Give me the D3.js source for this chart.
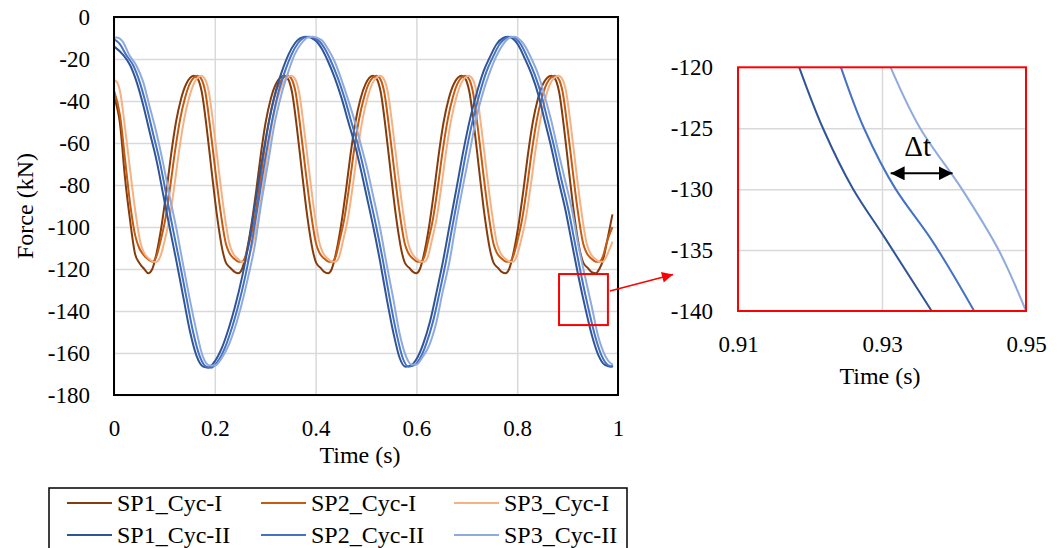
<!DOCTYPE html>
<html>
<head>
<meta charset="utf-8">
<script src="https://cdn.jsdelivr.net/npm/d3@7"></script>
<style>
  body { margin: 0; background: #fff; }
  svg text { font-family: "Liberation Serif", "Times New Roman", serif; fill: #000; }
</style>
</head>
<body>
<svg id="chart" width="1062" height="548"></svg>
<script>
// Force histories, [time (s), force (kN)]
const sp1CycI = [[0,-38],[0.012,-51],[0.022,-77],[0.032,-97],[0.042,-113],[0.05,-117],[0.06,-120],[0.068,-122],[0.076,-120],[0.084,-113],[0.094,-100],[0.104,-83],[0.113,-66],[0.123,-50],[0.133,-39],[0.143,-32],[0.159,-28],
  [0.165,-29],[0.174,-35.5],[0.184,-53],[0.194,-74],[0.204,-94],[0.217,-113],[0.222,-117],[0.231,-119.5],[0.24,-121.5],[0.247,-122],[0.254,-120],[0.262,-113],[0.272,-100],[0.282,-83],[0.291,-66],[0.301,-50],[0.311,-39],[0.321,-32],[0.338,-28],
  [0.344,-29],[0.353,-35.5],[0.363,-53],[0.373,-74],[0.383,-94],[0.396,-113],[0.401,-117],[0.41,-119.5],[0.418,-121.5],[0.425,-122],[0.432,-120],[0.44,-113],[0.45,-100],[0.46,-83],[0.469,-66],[0.479,-50],[0.489,-39],[0.499,-32],[0.514,-28],
  [0.52,-29],[0.529,-35.5],[0.539,-53],[0.549,-74],[0.559,-94],[0.572,-113],[0.577,-117],[0.586,-119.5],[0.594,-121.5],[0.6,-122],[0.607,-120],[0.615,-113],[0.625,-100],[0.635,-83],[0.644,-66],[0.654,-50],[0.664,-39],[0.674,-32],[0.69,-28],
  [0.696,-29],[0.705,-35.5],[0.715,-53],[0.725,-74],[0.735,-94],[0.748,-113],[0.753,-117],[0.762,-119.5],[0.77,-121.5],[0.777,-122],[0.784,-120],[0.792,-113],[0.802,-100],[0.812,-83],[0.821,-66],[0.831,-50],[0.841,-39],[0.851,-32],[0.868,-28],
  [0.874,-29],[0.883,-35.5],[0.893,-53],[0.903,-74],[0.913,-94],[0.926,-113],[0.931,-117],[0.94,-119.5],[0.948,-121.5],[0.956,-122],[0.963,-120],[0.97,-116],[0.979,-106],[0.989,-94]];

const sp2CycI = [[0,-35],[0.012,-47],[0.022,-68],[0.032,-89],[0.042,-104],[0.05,-110],[0.058,-113],[0.068,-115.5],[0.076,-116.5],[0.084,-114],[0.092,-107],[0.102,-96],[0.112,-80],[0.121,-64],[0.131,-49],[0.141,-38.5],[0.151,-31.5],[0.166,-28],
  [0.172,-29],[0.181,-35.5],[0.191,-53],[0.201,-73],[0.211,-92],[0.222,-108],[0.228,-112],[0.238,-115],[0.247,-116.5],[0.254,-116.5],[0.261,-114],[0.269,-107],[0.279,-96],[0.289,-80],[0.298,-64],[0.308,-49],[0.318,-38.5],[0.328,-31.5],[0.345,-28],
  [0.351,-29],[0.36,-35.5],[0.37,-53],[0.38,-73],[0.39,-92],[0.401,-108],[0.407,-112],[0.417,-115],[0.426,-116.5],[0.433,-116.5],[0.44,-114],[0.447,-107],[0.457,-96],[0.467,-80],[0.476,-64],[0.486,-49],[0.496,-38.5],[0.506,-31.5],[0.521,-28],
  [0.527,-29],[0.536,-35.5],[0.546,-53],[0.556,-73],[0.566,-92],[0.577,-108],[0.583,-112],[0.593,-115],[0.602,-116.5],[0.609,-116.5],[0.616,-114],[0.623,-107],[0.633,-96],[0.643,-80],[0.652,-64],[0.662,-49],[0.672,-38.5],[0.682,-31.5],[0.697,-28],
  [0.703,-29],[0.712,-35.5],[0.722,-53],[0.732,-73],[0.742,-92],[0.753,-108],[0.759,-112],[0.769,-115],[0.778,-116.5],[0.785,-116.5],[0.792,-114],[0.8,-107],[0.81,-96],[0.82,-80],[0.829,-64],[0.839,-49],[0.849,-38.5],[0.859,-31.5],[0.875,-28],
  [0.881,-29],[0.89,-35.5],[0.9,-53],[0.91,-73],[0.92,-92],[0.931,-108],[0.937,-112],[0.947,-115],[0.956,-116.5],[0.963,-116.5],[0.97,-114],[0.978,-107],[0.989,-100]];

const sp3CycI = [[0,-30],[0.006,-31],[0.012,-35.5],[0.022,-53],[0.032,-73],[0.042,-92],[0.053,-108],[0.059,-112],[0.069,-115],[0.078,-116.5],[0.085,-116.5],[0.092,-114],[0.1,-107],[0.11,-96],[0.12,-80],[0.129,-64],[0.139,-49],[0.149,-38.5],[0.159,-31.5],[0.173,-28],
  [0.179,-29],[0.188,-35.5],[0.198,-53],[0.208,-73],[0.218,-92],[0.229,-108],[0.235,-112],[0.245,-115],[0.254,-116.5],[0.261,-116.5],[0.268,-114],[0.276,-107],[0.286,-96],[0.296,-80],[0.305,-64],[0.315,-49],[0.325,-38.5],[0.335,-31.5],[0.352,-28],
  [0.358,-29],[0.367,-35.5],[0.377,-53],[0.387,-73],[0.397,-92],[0.408,-108],[0.414,-112],[0.424,-115],[0.433,-116.5],[0.44,-116.5],[0.447,-114],[0.454,-107],[0.464,-96],[0.474,-80],[0.483,-64],[0.493,-49],[0.503,-38.5],[0.513,-31.5],[0.528,-28],
  [0.534,-29],[0.543,-35.5],[0.553,-53],[0.563,-73],[0.573,-92],[0.584,-108],[0.59,-112],[0.6,-115],[0.609,-116.5],[0.616,-116.5],[0.623,-114],[0.63,-107],[0.64,-96],[0.65,-80],[0.659,-64],[0.669,-49],[0.679,-38.5],[0.689,-31.5],[0.704,-28],
  [0.71,-29],[0.719,-35.5],[0.729,-53],[0.739,-73],[0.749,-92],[0.76,-108],[0.766,-112],[0.776,-115],[0.785,-116.5],[0.792,-116.5],[0.799,-114],[0.807,-107],[0.817,-96],[0.827,-80],[0.836,-64],[0.846,-49],[0.856,-38.5],[0.866,-31.5],[0.882,-28],
  [0.888,-29],[0.897,-35.5],[0.907,-53],[0.917,-73],[0.927,-92],[0.938,-108],[0.944,-112],[0.954,-115],[0.963,-116.5],[0.97,-116.5],[0.977,-114],[0.989,-107]];

const sp1CycII = [[0,-14],[0.018,-18],[0.032,-23],[0.045,-31],[0.058,-42],[0.071,-55],[0.085,-69],[0.098,-85],[0.111,-101],[0.124,-116.5],[0.138,-134],[0.151,-150],[0.164,-161.5],[0.177,-166.5],[0.187,-167],
  [0.2,-164],[0.215,-157],[0.228,-148],[0.24,-138],[0.254,-124],[0.267,-108],[0.28,-89],[0.293,-69],[0.306,-51.5],[0.319,-37],[0.333,-26],[0.346,-18],[0.359,-12.5],[0.372,-9.8],[0.382,-9.4],
  [0.399,-11],[0.412,-15],[0.425,-21.3],[0.438,-29],[0.452,-39],[0.465,-50],[0.478,-61],[0.491,-74],[0.501,-85],[0.515,-100.6],[0.528,-116.5],[0.541,-134],[0.554,-150],[0.567,-162.5],[0.578,-166.5],
  [0.588,-166],[0.6,-163],[0.613,-156],[0.627,-145],[0.64,-131],[0.653,-116],[0.666,-99],[0.68,-81],[0.693,-64],[0.706,-49],[0.72,-36],[0.733,-26],[0.746,-19],[0.759,-13],[0.772,-10],[0.782,-9.4],
  [0.802,-13.3],[0.815,-19.7],[0.829,-27.6],[0.842,-37.1],[0.855,-49.8],[0.868,-62.5],[0.881,-76.8],[0.895,-91.1],[0.908,-107],[0.921,-123],[0.935,-138.5],[0.948,-151.4],[0.961,-161],[0.974,-165.7],[0.985,-166.5],[0.99,-166]];

const sp2CycII = [[0,-10.5],[0.012,-13],[0.024,-18],[0.038,-23],[0.051,-31],[0.064,-42],[0.077,-55],[0.091,-69],[0.104,-85],[0.117,-101],[0.13,-116.5],[0.144,-134],[0.157,-150],[0.17,-161.5],[0.183,-166.5],[0.193,-167],
  [0.206,-164],[0.221,-157],[0.234,-148],[0.246,-138],[0.26,-124],[0.273,-108],[0.286,-89],[0.299,-69],[0.312,-51.5],[0.325,-37],[0.339,-26],[0.352,-18],[0.365,-12.5],[0.378,-9.8],[0.388,-9.4],
  [0.405,-11],[0.418,-15],[0.431,-21.3],[0.444,-29],[0.458,-39],[0.471,-50],[0.484,-61],[0.497,-74],[0.507,-85],[0.521,-100.6],[0.534,-116.5],[0.547,-134],[0.56,-150],[0.573,-162.5],[0.584,-166.5],
  [0.594,-166],[0.606,-163],[0.619,-156],[0.633,-145],[0.646,-131],[0.659,-116],[0.672,-99],[0.686,-81],[0.699,-64],[0.712,-49],[0.726,-36],[0.739,-26],[0.752,-19],[0.765,-13],[0.778,-10],[0.788,-9.4],
  [0.808,-13.3],[0.821,-19.7],[0.835,-27.6],[0.848,-37.1],[0.861,-49.8],[0.874,-62.5],[0.887,-76.8],[0.901,-91.1],[0.914,-107],[0.927,-123],[0.941,-138.5],[0.954,-151.4],[0.967,-161],[0.98,-165.7],[0.99,-166.5]];

const sp3CycII = [[0,-10],[0.005,-9.8],[0.018,-12],[0.03,-18],[0.044,-23],[0.058,-31],[0.07,-42],[0.084,-55],[0.097,-69],[0.11,-85],[0.124,-101],[0.136,-116.5],[0.15,-134],[0.164,-150],[0.176,-161.5],[0.19,-166],
  [0.2,-166],[0.212,-163],[0.228,-156],[0.24,-148],[0.252,-138],[0.266,-124],[0.28,-108],[0.292,-89],[0.306,-69],[0.318,-51.5],[0.332,-37],[0.346,-26],[0.358,-18],[0.372,-12.5],[0.384,-9.8],[0.394,-9.4],
  [0.412,-11],[0.424,-15],[0.438,-21.3],[0.45,-29],[0.464,-39],[0.478,-50],[0.49,-61],[0.504,-74],[0.514,-85],[0.528,-100.6],[0.54,-116.5],[0.554,-134],[0.566,-150],[0.58,-162],[0.59,-165.5],
  [0.6,-165.5],[0.612,-162],[0.626,-156],[0.64,-145],[0.652,-131],[0.666,-116],[0.678,-99],[0.692,-81],[0.706,-64],[0.718,-49],[0.732,-36],[0.746,-26],[0.758,-19],[0.772,-13],[0.784,-10],[0.794,-9.4],
  [0.814,-13.3],[0.828,-19.7],[0.842,-27.6],[0.854,-37.1],[0.868,-49.8],[0.88,-62.5],[0.894,-76.8],[0.908,-91.1],[0.92,-107],[0.934,-123],[0.948,-138],[0.96,-151.4],[0.974,-161],[0.986,-165],[0.99,-165.5]];

// Close-up of the Cyc-II descent near t = 0.93 s
const sp1CycIIZoom = [[0.9185,-120],[0.9218,-125],[0.926,-130],[0.9304,-134],[0.9369,-140]];
const sp2CycIIZoom = [[0.9243,-120],[0.9275,-125],[0.9319,-130],[0.9367,-134],[0.9428,-140]];
const sp3CycIIZoom = [[0.9312,-120],[0.9353,-125],[0.9411,-130],[0.9462,-135],[0.95,-140]];

const seriesNames = ["SP1_Cyc-I", "SP2_Cyc-I", "SP3_Cyc-I", "SP1_Cyc-II", "SP2_Cyc-II", "SP3_Cyc-II"];
const seriesData = [sp1CycI, sp2CycI, sp3CycI, sp1CycII, sp2CycII, sp3CycII];
const zoomData = [sp1CycIIZoom, sp2CycIIZoom, sp3CycIIZoom];
const colors = ["#843c0c", "#c55a11", "#f4b183", "#2f5597", "#4472c4", "#8faadc"];

const xTicks = [0, 0.2, 0.4, 0.6, 0.8, 1];
const yTicks = [0, -20, -40, -60, -80, -100, -120, -140, -160, -180];
const zoomXTicks = [0.91, 0.93, 0.95];
const zoomYTicks = [-120, -125, -130, -135, -140];

// delta-t marker between SP2 and SP3 in the close-up
const deltaT = { t0: 0.9312, t1: 0.9398, f: -128.7 };
// red box marking the close-up region on the main plot
const zoomBox = { t0: 0.883, t1: 0.98, f0: -122.4, f1: -146.7 };

const FONT = '"Liberation Serif", "Times New Roman", serif';
const svg = d3.select("#chart");
const gridColor = "#d9d9d9";

// strip d3's default axis font so the serif face is used
function plainAxis(g) {
  g.attr("font-family", null).attr("font-size", null);
  g.select(".domain").remove();
  g.selectAll("text").style("font-family", FONT).style("font-size", "23px");
}

// ---------- main plot ----------
const x = d3.scaleLinear().domain([0, 1]).range([114, 618]);
const y = d3.scaleLinear().domain([-180, 0]).range([395, 17]);
const pw = 504, ph = 378;

svg.append("defs").append("clipPath").attr("id", "plotClip")
  .append("rect").attr("x", 114).attr("y", 17).attr("width", pw).attr("height", ph);

const grid = svg.append("g");
grid.append("g").attr("transform", "translate(0,395)")
  .call(d3.axisBottom(x).tickValues(xTicks).tickSize(-ph).tickFormat(""))
  .call(plainAxis)
  .call(g => g.selectAll("line").attr("stroke", gridColor).attr("stroke-width", 1.5));
grid.append("g").attr("transform", "translate(114,0)")
  .call(d3.axisLeft(y).tickValues(yTicks).tickSize(-pw).tickFormat(""))
  .call(plainAxis)
  .call(g => g.selectAll("line").attr("stroke", gridColor).attr("stroke-width", 1.5));

const line = d3.line().x(d => x(d[0])).y(d => y(d[1])).curve(d3.curveMonotoneX);

svg.append("g").attr("clip-path", "url(#plotClip)")
  .selectAll("path")
  .data(seriesData)
  .join("path")
  .attr("d", line)
  .attr("fill", "none")
  .attr("stroke", (d, i) => colors[i])
  .attr("stroke-width", 2)
  .attr("stroke-linejoin", "round");

svg.append("rect")
  .attr("x", 114).attr("y", 17).attr("width", pw).attr("height", ph)
  .attr("fill", "none").attr("stroke", "#000").attr("stroke-width", 2);

svg.append("g").attr("transform", "translate(0,395)")
  .call(d3.axisBottom(x).tickValues(xTicks).tickSize(0).tickPadding(25).tickFormat(d => String(d)))
  .call(plainAxis);
svg.append("g").attr("transform", "translate(114,0)")
  .call(d3.axisLeft(y).tickValues(yTicks).tickSize(0).tickPadding(24).tickFormat(d => String(d)))
  .call(plainAxis);

svg.append("text").attr("x", 360).attr("y", 463).attr("text-anchor", "middle")
  .style("font-family", FONT).style("font-size", "24px").text("Time (s)");
svg.append("text").attr("transform", "translate(33,206) rotate(-90)").attr("text-anchor", "middle")
  .style("font-family", FONT).style("font-size", "24px").text("Force (kN)");

svg.append("rect")
  .attr("x", x(zoomBox.t0)).attr("y", y(zoomBox.f0))
  .attr("width", x(zoomBox.t1) - x(zoomBox.t0)).attr("height", y(zoomBox.f1) - y(zoomBox.f0))
  .attr("fill", "none").attr("stroke", "#ff0000").attr("stroke-width", 2);

// ---------- close-up ----------
const ix = d3.scaleLinear().domain([0.91, 0.95]).range([738, 1026]);
const iy = d3.scaleLinear().domain([-140, -120]).range([311, 67.3]);
const iw = 288, ih = 243.7;

const defs = svg.select("defs");
defs.append("marker").attr("id", "blackHead").attr("viewBox", "0 0 10 10")
  .attr("refX", 10).attr("refY", 5).attr("markerWidth", 14).attr("markerHeight", 14)
  .attr("markerUnits", "userSpaceOnUse").attr("orient", "auto-start-reverse")
  .append("path").attr("d", "M0,0 L10,5 L0,10 Z").attr("fill", "#000");
defs.append("marker").attr("id", "redHead").attr("viewBox", "0 0 10 10")
  .attr("refX", 10).attr("refY", 5).attr("markerWidth", 13).attr("markerHeight", 11)
  .attr("markerUnits", "userSpaceOnUse").attr("orient", "auto")
  .append("path").attr("d", "M0,0 L10,5 L0,10 Z").attr("fill", "#ff0000");

svg.append("g").attr("transform", `translate(0,${iy(-140)})`)
  .call(d3.axisBottom(ix).tickValues([0.93]).tickSize(-ih).tickFormat(""))
  .call(plainAxis)
  .call(g => g.selectAll("line").attr("stroke", gridColor).attr("stroke-width", 1.5));
svg.append("g").attr("transform", `translate(${ix(0.91)},0)`)
  .call(d3.axisLeft(iy).tickValues([-125, -130, -135]).tickSize(-iw).tickFormat(""))
  .call(plainAxis)
  .call(g => g.selectAll("line").attr("stroke", gridColor).attr("stroke-width", 1.5));

const zline = d3.line().x(d => ix(d[0])).y(d => iy(d[1])).curve(d3.curveMonotoneY);
svg.append("g").selectAll("path")
  .data(zoomData)
  .join("path")
  .attr("d", zline)
  .attr("fill", "none")
  .attr("stroke", (d, i) => colors[i + 3])
  .attr("stroke-width", 2);

svg.append("rect")
  .attr("x", ix(0.91)).attr("y", iy(-120)).attr("width", iw).attr("height", ih)
  .attr("fill", "none").attr("stroke", "#ff0000").attr("stroke-width", 2);

svg.append("g").attr("transform", `translate(0,${iy(-140)})`)
  .call(d3.axisBottom(ix).tickValues(zoomXTicks).tickSize(0).tickPadding(25).tickFormat(d3.format(".2f")))
  .call(plainAxis);
svg.append("g").attr("transform", `translate(${ix(0.91)},0)`)
  .call(d3.axisLeft(iy).tickValues(zoomYTicks).tickSize(0).tickPadding(25).tickFormat(d => String(d)))
  .call(plainAxis);

svg.append("text").attr("x", 880).attr("y", 384).attr("text-anchor", "middle")
  .style("font-family", FONT).style("font-size", "24px").text("Time (s)");

// Δt double arrow
svg.append("line")
  .attr("x1", ix(deltaT.t0)).attr("x2", ix(deltaT.t1))
  .attr("y1", iy(deltaT.f)).attr("y2", iy(deltaT.f))
  .attr("stroke", "#000").attr("stroke-width", 2)
  .attr("marker-start", "url(#blackHead)").attr("marker-end", "url(#blackHead)");
svg.append("text").attr("x", (ix(deltaT.t0) + ix(deltaT.t1)) / 2 - 4).attr("y", iy(deltaT.f) - 17)
  .attr("text-anchor", "middle").style("font-family", FONT).style("font-size", "29px").text("Δt");

// pointer from the red box to the close-up
svg.append("line")
  .attr("x1", x(zoomBox.t1) + 2).attr("y1", y(-130.5))
  .attr("x2", ix(0.91) - 65).attr("y2", iy(-137))
  .attr("stroke", "#ff0000").attr("stroke-width", 1.5)
  .attr("marker-end", "url(#redHead)");

// ---------- legend ----------
const legend = svg.append("g");
legend.append("rect").attr("x", 49).attr("y", 488).attr("width", 578).attr("height", 80)
  .attr("fill", "#fff").attr("stroke", "#000").attr("stroke-width", 1.5);
const colX = [67, 261, 454];
const rowY = [503, 535];
const items = legend.selectAll("g.item")
  .data(seriesNames)
  .join("g")
  .attr("class", "item")
  .attr("transform", (d, i) => `translate(${colX[i % 3]},${rowY[Math.floor(i / 3)]})`);
items.append("line").attr("x1", 0).attr("x2", 45).attr("y1", 0).attr("y2", 0)
  .attr("stroke", (d, i) => colors[i]).attr("stroke-width", 2);
items.append("text").attr("x", 50).attr("y", 8)
  .style("font-family", FONT).style("font-size", "24px").text(d => d);
</script>
</body>
</html>
